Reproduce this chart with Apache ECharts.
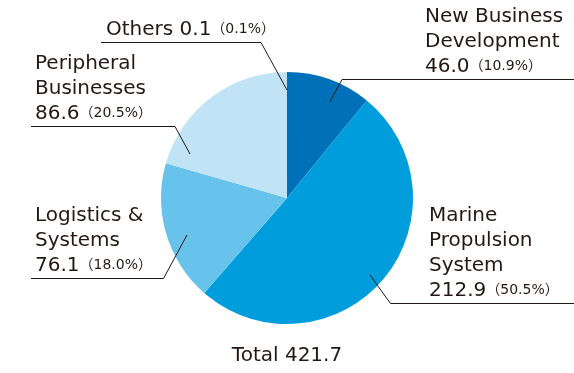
<!DOCTYPE html>
<html>
<head>
<meta charset="utf-8">
<script src="https://cdn.jsdelivr.net/npm/echarts@6/dist/echarts.min.js"></script>
<style>
html,body{margin:0;padding:0;background:#fff;}
#chart{width:574px;height:373px;}
</style>
</head>
<body>
<div id="chart"></div>
<script>
const categories = ['New Business\nDevelopment', 'Marine\nPropulsion\nSystem', 'Logistics &\nSystems', 'Peripheral\nBusinesses', 'Others'];
const values = [46.0, 212.9, 76.1, 86.6, 0.1];
const shares = [10.9, 50.5, 18.0, 20.5, 0.1];
const colors = ['#0071b8', '#009ddd', '#68c3ec', '#c0e4f6', '#a0a0a0'];

const FONT = '"DejaVu Sans", sans-serif';
const PFONT = '"DejaVu Sans", "Noto Sans CJK JP", sans-serif';
const TEXT = '#231815';
const CENTER = [287, 198];
const RADIUS = 126;
// label placement: leader start, elbow, end x of underline, text left x
const labelCfg = [
  { start: [330, 101.5], elbow: [342, 79.5], endX: 574, textX: 425 },
  { start: [370, 275], elbow: [390.5, 303.5], endX: 574, textX: 429 },
  { start: [187, 235], elbow: [163.5, 278.5], endX: 31, textX: 35 },
  { start: [190, 154], elbow: [175, 126.5], endX: 31, textX: 35 },
  { start: [287, 90], elbow: [261, 42.5], endX: 101, textX: 106 }
];

const total = values.reduce((a, b) => a + b, 0);
const pieData = categories.map((n, i) => ({ name: n, value: values[i], itemStyle: { color: colors[i] } }));

const chart = echarts.init(document.getElementById('chart'), null, { renderer: 'canvas' });
chart.setOption({
  animation: false,
  title: {
    text: 'Total ' + total.toFixed(1),
    left: 'center',
    top: 341,
    textStyle: { fontFamily: FONT, fontSize: 20, fontWeight: 'normal', color: TEXT }
  },
  series: [{
    type: 'pie',
    z: 2,
    center: CENTER,
    radius: RADIUS,
    startAngle: 90,
    clockwise: true,
    itemStyle: { borderWidth: 0 },
    emphasis: { disabled: true },
    label: { show: false },
    labelLine: { show: false },
    data: pieData
  }, {
    type: 'pie',
    z: 5,
    center: CENTER,
    radius: RADIUS,
    startAngle: 90,
    clockwise: true,
    avoidLabelOverlap: false,
    itemStyle: { color: 'rgba(0,0,0,0)', borderWidth: 0 },
    emphasis: { disabled: true },
    silent: true,
    data: categories.map((n, i) => ({ name: n, value: values[i] })),
    label: {
      show: true,
      position: 'outside',
      fontFamily: FONT,
      fontSize: 20,
      lineHeight: 25,
      color: TEXT,
      align: 'left',
      formatter: (p) => {
        const i = p.dataIndex;
        const sep = categories[i].includes('\n') ? '\n' : ' ';
        return categories[i] + sep + values[i].toFixed(1) + '{p|（' + shares[i].toFixed(1) + '%）}';
      },
      rich: {
        p: { fontFamily: PFONT, fontSize: 14, lineHeight: 25, color: TEXT }
      }
    },
    labelLine: {
      show: true,
      length: 10,
      length2: 10,
      lineStyle: { color: '#231815', width: 1 }
    },
    labelLayout: (params) => {
      const cfg = labelCfg[params.dataIndex];
      return {
        x: cfg.textX,
        y: Math.floor(cfg.elbow[1]),
        align: 'left',
        verticalAlign: 'bottom',
        labelLinePoints: [cfg.start, cfg.elbow, [cfg.endX, cfg.elbow[1]]]
      };
    }
  }]
});
</script>
</body>
</html>
